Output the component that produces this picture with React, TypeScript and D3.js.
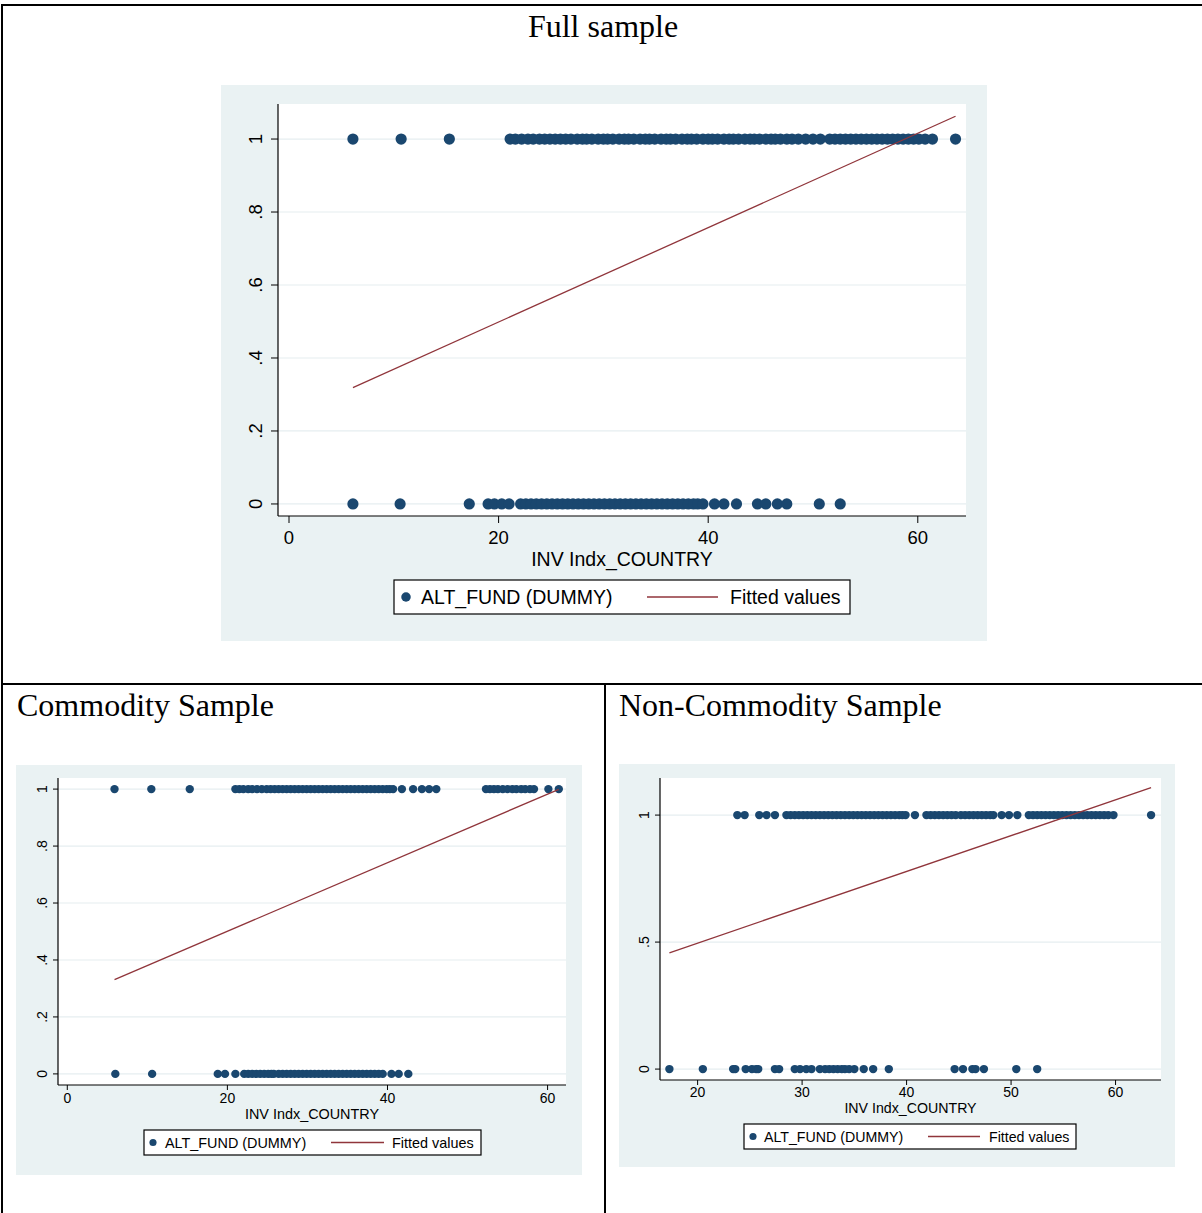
import * as d3 from "d3";

// ALT_FUND (DUMMY) against INV Indx_COUNTRY
const FULL_HI = [
  6.1, 10.7, 15.3,
  21.1, 21.6, 22.2, 22.8, 23.3, 23.9, 24.4, 24.9,
  25.4, 25.9, 26.4, 26.9, 27.5, 28.0, 28.4, 28.9, 29.5, 30.0, 30.4, 30.9, 31.5,
  32.0, 32.4, 32.9, 33.5, 34.0, 34.4, 34.9, 35.5, 36.0, 36.4, 36.9, 37.5, 38.0,
  38.4, 38.9, 39.5, 40.0, 40.4, 40.9, 41.5, 42.0, 42.4, 42.9, 43.5, 44.0, 44.4,
  44.9, 45.5, 46.0, 46.4, 46.9, 47.5, 48.0, 48.6,
  49.3, 50.0, 50.7,
  51.6, 52.1, 52.6, 53.1, 53.6, 54.1, 54.6, 55.1, 55.6, 56.1, 56.6, 57.1, 57.6,
  58.1, 58.6, 59.1, 59.6, 60.1, 60.7,
  61.4, 63.6,
];
const FULL_LO = [
  6.1, 10.6, 17.2, 19.0, 19.6, 20.3, 21.0,
  22.1, 22.6, 23.1, 23.6, 24.1, 24.6, 25.1, 25.6, 26.1, 26.6, 27.1, 27.6, 28.1,
  28.6, 29.1, 29.6, 30.1, 30.6, 31.1, 31.6, 32.1, 32.6, 33.1, 33.6, 34.1, 34.6,
  35.1, 35.6, 36.1, 36.6, 37.1, 37.6, 38.1, 38.6, 39.0, 39.5,
  40.6, 41.5, 42.7, 44.7, 45.5, 46.6, 47.5, 50.6, 52.6,
];
const COMM_HI = [
  5.9, 10.5, 15.3,
  21.0, 21.5, 22.0, 22.6, 23.1, 23.7, 24.3, 24.9,
  25.4, 25.9, 26.4, 26.9, 27.4, 27.9, 28.4, 28.9, 29.4, 29.9, 30.4, 30.9, 31.4,
  31.9, 32.4, 32.9, 33.4, 33.9, 34.4, 34.9, 35.4, 35.9, 36.4, 36.9, 37.4, 37.9,
  38.4, 38.9, 39.4, 39.9, 40.3, 40.7,
  41.8, 43.2, 44.3, 45.2, 46.1,
  52.3, 52.8, 53.3, 53.8, 54.4, 55.0, 55.6, 56.1, 56.7, 57.2, 57.8, 58.3,
  60.1, 61.4,
];
const COMM_LO = [
  6.0, 10.6, 18.8, 19.7, 21.0,
  22.1, 22.6, 23.1, 23.6, 24.1, 24.6, 25.1, 25.5, 25.8,
  26.4, 26.9, 27.4, 27.9, 28.4, 28.9, 29.4, 29.9, 30.4, 30.9, 31.4, 31.9, 32.4,
  32.9, 33.4, 33.9, 34.4, 34.9, 35.4, 35.9, 36.4, 36.9, 37.4, 37.9, 38.4, 38.9,
  39.4, 40.5, 41.4, 42.6,
];
const NONC_HI = [
  23.8, 24.5, 25.9, 26.6, 27.4,
  28.5, 28.9, 29.3, 29.7, 30.1, 30.5, 30.9, 31.3, 31.7, 32.1, 32.5, 32.9, 33.3,
  33.7, 34.1, 34.5, 34.9, 35.3, 35.7, 36.1, 36.5, 36.9, 37.3, 37.7, 38.1, 38.5,
  38.9, 39.3, 39.6, 39.9,
  40.8, 41.9, 42.3, 42.7, 43.1, 43.5, 43.9, 44.3, 44.7,
  45.2, 45.6, 46.0, 46.4, 46.8, 47.2, 47.6, 48.0, 48.3,
  49.1, 49.8, 50.6,
  51.7, 52.1, 52.5, 52.9, 53.3, 53.7, 54.1, 54.5, 54.9, 55.3, 55.7, 56.1, 56.5,
  56.9, 57.3, 57.7, 58.1, 58.5, 58.9, 59.3, 59.8,
  63.4,
];
const NONC_LO = [
  17.3, 20.5, 23.4, 23.6, 24.6, 25.2, 25.6, 25.8, 27.4, 27.8, 29.3, 29.8, 30.4,
  30.9, 31.7, 32.2, 32.6, 33.0, 33.4, 33.8, 34.1, 34.5, 35.0, 35.9, 36.8, 38.3,
  44.6, 45.4, 46.3, 46.6, 47.4, 50.5, 52.5,
];

// fitted values: intercept + slope * x
const FIT_FULL = [0.24, 0.01293];
const FIT_COMM = [0.26, 0.01204];
const FIT_NONC = [0.214, 0.0141];

const TICKS_X_FULL = [0, 20, 40, 60];
const TICKS_X_NONC = [20, 30, 40, 50, 60];
const TICKS_Y_FINE = [0, 0.2, 0.4, 0.6, 0.8, 1];
const TICKS_Y_HALF = [0, 0.5, 1];

const NAVY = "#1a476f";
const MAROON = "#90353b";
const BG = "#eaf2f3";
const GRID = "#e6eef0";
const SANS = "'Liberation Sans', Arial, sans-serif";
const SERIF = "'Liberation Serif', 'Times New Roman', serif";

const fmtY = (v) => (v === 0 ? "0" : v === 1 ? "1" : String(v).replace(/^0/, ""));

const Panel = ({ cfg, hi, lo, fit, xTicks, yTicks }) => {
  const { bg, plot, xDomain, yDomain, fs, r, tick, leg } = cfg;
  const x = d3.scaleLinear().domain(xDomain).range([plot.l, plot.r]);
  const y = d3.scaleLinear().domain(yDomain).range([plot.b, plot.t]);
  const all = hi.concat(lo);
  const [x0, x1] = d3.extent(all);
  const line = d3.line().x((d) => x(d)).y((d) => y(fit[0] + fit[1] * d));

  return (
    <g>
      <rect x={bg.x} y={bg.y} width={bg.w} height={bg.h} fill={BG} />
      <rect x={plot.l} y={plot.t} width={plot.r - plot.l} height={plot.b - plot.t} fill="white" />
      {yTicks.map((v) => (
        <line key={"g" + v} x1={plot.l} x2={plot.r} y1={y(v)} y2={y(v)} stroke={GRID} strokeWidth={1.2} />
      ))}
      {lo.map((v, i) => (
        <circle key={"l" + i} cx={x(v)} cy={y(0)} r={r} fill={NAVY} />
      ))}
      {hi.map((v, i) => (
        <circle key={"h" + i} cx={x(v)} cy={y(1)} r={r} fill={NAVY} />
      ))}
      <path d={line([x0, x1])} stroke={MAROON} strokeWidth={1.3} fill="none" />

      {/* axes */}
      <line x1={plot.l} x2={plot.l} y1={plot.t} y2={plot.b} stroke="black" strokeWidth={1.2} />
      <line x1={plot.l} x2={plot.r} y1={plot.b} y2={plot.b} stroke="black" strokeWidth={1.2} />
      {yTicks.map((v) => (
        <g key={"y" + v}>
          <line x1={plot.l - tick} x2={plot.l} y1={y(v)} y2={y(v)} stroke="black" />
          <text
            transform={`translate(${plot.l - tick - cfg.yLabGap}, ${y(v)}) rotate(-90)`}
            textAnchor="middle"
            fontFamily={SANS}
            fontSize={fs}
          >
            {fmtY(v)}
          </text>
        </g>
      ))}
      {xTicks.map((v) => (
        <g key={"x" + v}>
          <line x1={x(v)} x2={x(v)} y1={plot.b} y2={plot.b + tick} stroke="black" />
          <text x={x(v)} y={cfg.xLabY} textAnchor="middle" fontFamily={SANS} fontSize={fs}>
            {v}
          </text>
        </g>
      ))}
      <text x={(plot.l + plot.r) / 2} y={cfg.titleY} textAnchor="middle" fontFamily={SANS} fontSize={cfg.titleFs}>
        INV Indx_COUNTRY
      </text>

      {/* legend */}
      <rect x={leg.x} y={leg.y} width={leg.w} height={leg.h} fill="white" stroke="black" strokeWidth={1.2} />
      <circle cx={leg.dotX} cy={leg.y + leg.h / 2} r={r * 0.85} fill={NAVY} />
      <text x={leg.textX} y={leg.y + leg.h / 2} dominantBaseline="central" fontFamily={SANS} fontSize={leg.fs}>
        ALT_FUND (DUMMY)
      </text>
      <line x1={leg.lineX1} x2={leg.lineX2} y1={leg.y + leg.h / 2} y2={leg.y + leg.h / 2} stroke={MAROON} strokeWidth={1.3} />
      <text x={leg.fitX} y={leg.y + leg.h / 2} dominantBaseline="central" fontFamily={SANS} fontSize={leg.fs}>
        Fitted values
      </text>
    </g>
  );
};

const FULL_CFG = {
  bg: { x: 221, y: 85, w: 766, h: 556 },
  plot: { l: 278, t: 104, r: 966, b: 516 },
  xDomain: [-1.05, 64.6],
  yDomain: [-0.033, 1.096],
  fs: 18.5,
  titleFs: 19.5,
  r: 5.6,
  tick: 7,
  yLabGap: 9,
  xLabY: 544,
  titleY: 566,
  leg: { x: 394, y: 580, w: 456, h: 34, dotX: 406, textX: 421, lineX1: 647, lineX2: 718, fitX: 730, fs: 19.5 },
};
const COMM_CFG = {
  bg: { x: 16, y: 765, w: 566, h: 410 },
  plot: { l: 58, t: 778, r: 566, b: 1085 },
  xDomain: [-1.16, 62.3],
  yDomain: [-0.039, 1.039],
  fs: 14,
  titleFs: 14.4,
  r: 4.2,
  tick: 5,
  yLabGap: 6,
  xLabY: 1103,
  titleY: 1119,
  leg: { x: 144, y: 1130, w: 337, h: 25, dotX: 153, textX: 165, lineX1: 331, lineX2: 384, fitX: 392, fs: 14.4 },
};
const NONC_CFG = {
  bg: { x: 619, y: 764, w: 556, h: 403 },
  plot: { l: 660, t: 778, r: 1161, b: 1080 },
  xDomain: [16.4, 64.35],
  yDomain: [-0.043, 1.146],
  fs: 14,
  titleFs: 14.2,
  r: 4.2,
  tick: 5,
  yLabGap: 6,
  xLabY: 1097,
  titleY: 1113,
  leg: { x: 744, y: 1124, w: 332, h: 25, dotX: 753, textX: 764, lineX1: 928, lineX2: 980, fitX: 989, fs: 14.2 },
};

export default function App() {
  return (
    <svg width={1202} height={1213} style={{ position: "absolute", left: 0, top: 0, background: "white" }}>
      {/* table frame */}
      <line x1={2} x2={1202} y1={5} y2={5} stroke="black" strokeWidth={2} />
      <line x1={2} x2={2} y1={4} y2={1213} stroke="black" strokeWidth={2} />
      <line x1={2} x2={1202} y1={684} y2={684} stroke="black" strokeWidth={2} />
      <line x1={605} x2={605} y1={684} y2={1213} stroke="black" strokeWidth={2} />

      <text x={603} y={37} textAnchor="middle" fontFamily={SERIF} fontSize={32}>Full sample</text>
      <text x={17} y={716} fontFamily={SERIF} fontSize={32}>Commodity Sample</text>
      <text x={619} y={716} fontFamily={SERIF} fontSize={32}>Non-Commodity Sample</text>

      <Panel cfg={FULL_CFG} hi={FULL_HI} lo={FULL_LO} fit={FIT_FULL} xTicks={TICKS_X_FULL} yTicks={TICKS_Y_FINE} />
      <Panel cfg={COMM_CFG} hi={COMM_HI} lo={COMM_LO} fit={FIT_COMM} xTicks={TICKS_X_FULL} yTicks={TICKS_Y_FINE} />
      <Panel cfg={NONC_CFG} hi={NONC_HI} lo={NONC_LO} fit={FIT_NONC} xTicks={TICKS_X_NONC} yTicks={TICKS_Y_HALF} />
    </svg>
  );
}
